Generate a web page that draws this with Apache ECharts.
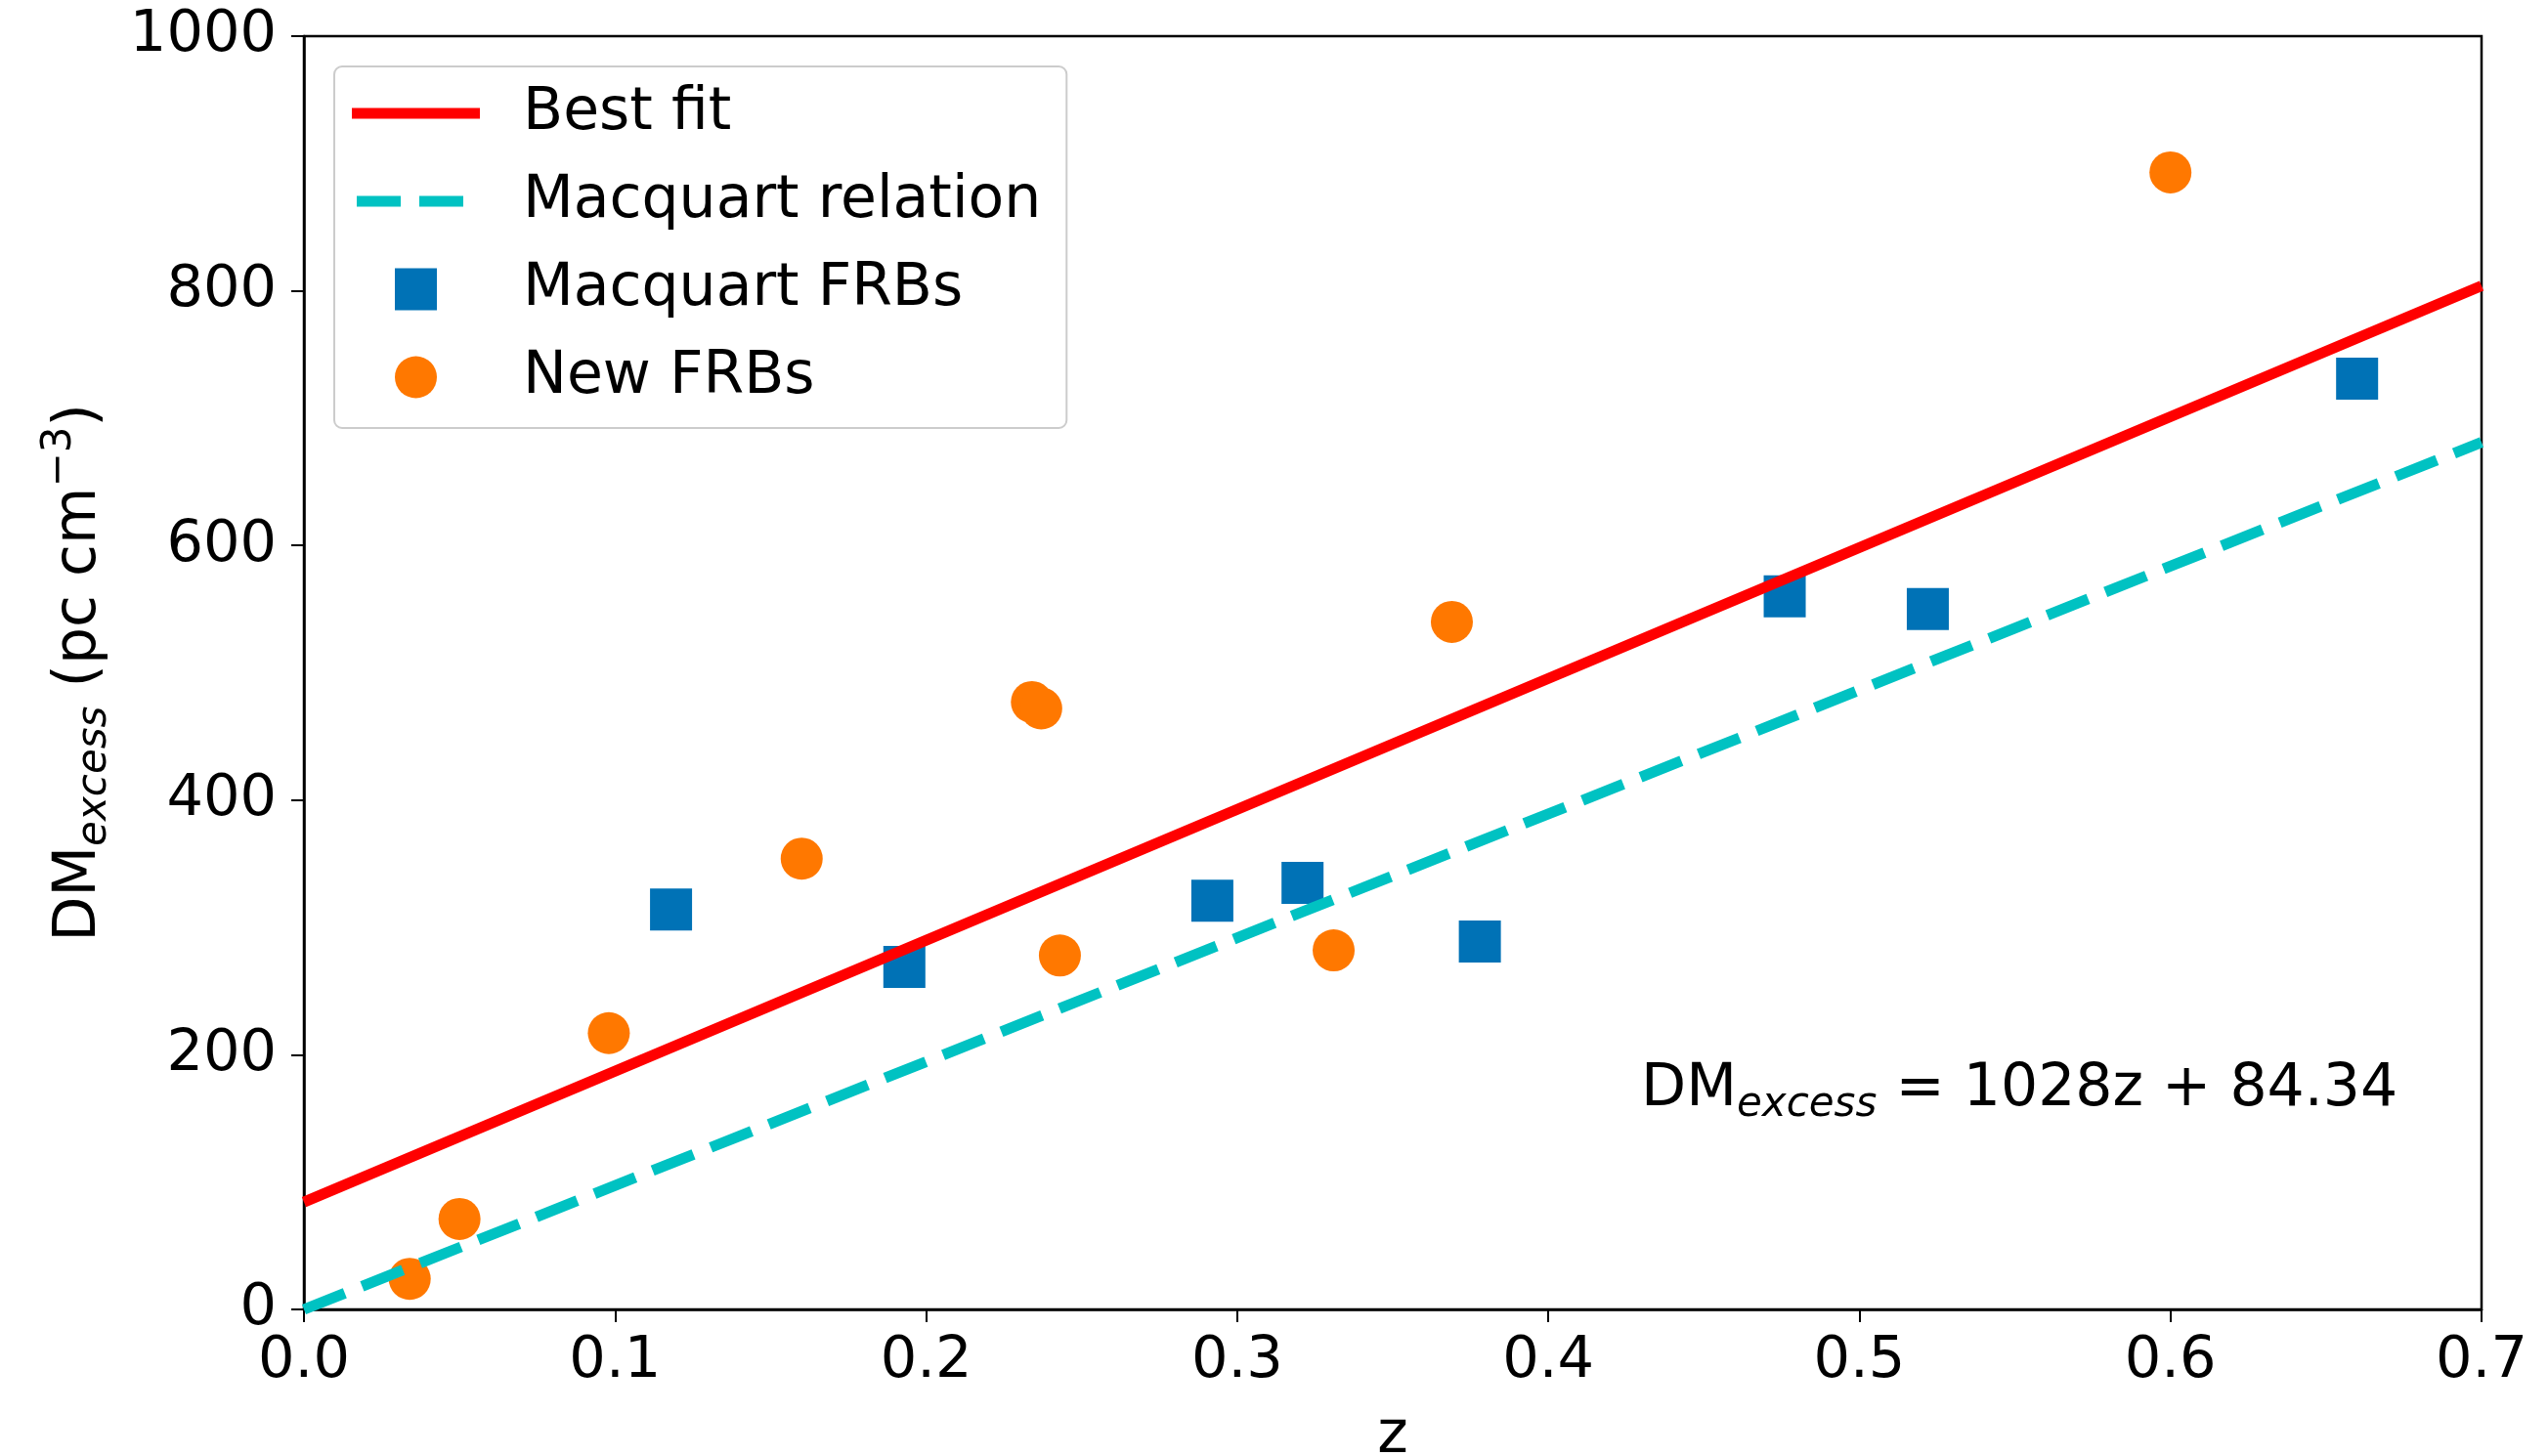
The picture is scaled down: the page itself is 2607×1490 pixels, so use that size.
<!DOCTYPE html>
<html>
<head>
<meta charset="utf-8">
<script src="https://cdn.jsdelivr.net/npm/echarts@6/dist/echarts.min.js"></script>
<style>
html,body{margin:0;padding:0;background:#fff;}
#chart{width:2607px;height:1490px;}
</style>
</head>
<body>
<div id="chart"></div>
<script>
// ---- data ----
const macquartZ  = [0.118, 0.193, 0.292, 0.321, 0.378, 0.476, 0.522, 0.660];
const macquartDM = [314, 269, 321, 335, 289, 560, 550, 731];
const newZ  = [0.034, 0.050, 0.098, 0.160, 0.234, 0.237, 0.243, 0.331, 0.369, 0.600];
const newDM = [24, 71, 217, 354, 477, 472, 278, 282, 540, 893];
const fitZ  = [0.0, 0.7];
const fitDM = [84.34, 803.94];
const relZ  = [0.0, 0.7];
const relDM = [0, 681];
const xTicks = ['0.0','0.1','0.2','0.3','0.4','0.5','0.6','0.7'];
const yTicks = ['0','200','400','600','800','1000'];
const seriesNames = ['Best fit', 'Macquart relation', 'Macquart FRBs', 'New FRBs'];

const zip = (a, b) => a.map((v, i) => [v, b[i]]);
const FONT = 'DejaVu Sans';
const FS = 59;

const chart = echarts.init(document.getElementById('chart'), null, {renderer: 'canvas'});

const subRich = {
  m: {fontFamily: FONT, fontSize: 60, color: '#000', lineHeight: 80},
  s: {fontFamily: FONT, fontSize: 42, fontStyle: 'italic', color: '#000', lineHeight: 80, padding: [32, 0, 0, 0]},
  p: {fontFamily: FONT, fontSize: 42, color: '#000', lineHeight: 80, padding: [0, 0, 40, 0]}
};

const option = {
  animation: false,
  backgroundColor: '#ffffff',
  grid: {left: 311, right: 68, top: 37, bottom: 150, outerBoundsMode: 'none', containLabel: false,
    show: true, borderColor: '#000', borderWidth: 2.5, backgroundColor: 'transparent'},
  xAxis: {
    type: 'value', min: 0, max: 0.7, interval: 0.1,
    name: 'z', nameLocation: 'middle', nameGap: 100,
    nameTextStyle: {fontFamily: FONT, fontSize: 60, color: '#000'},
    axisLine: {show: true, onZero: false, lineStyle: {color: '#000', width: 2.5}},
    axisTick: {show: true, length: 13, lineStyle: {color: '#000', width: 2}},
    axisLabel: {fontFamily: FONT, fontSize: FS, color: '#000', margin: 24,
      formatter: v => xTicks[Math.round(v * 10)]},
    splitLine: {show: false}
  },
  yAxis: {
    type: 'value', min: 0, max: 1000, interval: 200,
    name: '{m|DM}{s|excess}{m| (pc cm}{p|−3}{m|)}',
    nameLocation: 'middle', nameGap: 185,
    nameTextStyle: {rich: subRich},
    axisLine: {show: true, lineStyle: {color: '#000', width: 2.5}},
    axisTick: {show: true, length: 13, lineStyle: {color: '#000', width: 2}},
    axisLabel: {fontFamily: FONT, fontSize: FS, color: '#000', margin: 28,
      formatter: v => yTicks[Math.round(v / 200)]},
    splitLine: {show: false}
  },
  legend: {
    orient: 'vertical', left: 342, top: 68,
    padding: [18, 26, 22, 18],
    itemWidth: 131, itemHeight: 43, itemGap: 30,
    backgroundColor: 'rgba(255,255,255,0.8)',
    borderColor: '#cccccc', borderWidth: 2, borderRadius: 8,
    selectedMode: false,
    itemStyle: {borderWidth: 0},
    textStyle: {fontFamily: FONT, fontSize: 60, color: '#000', lineHeight: 60, padding: [0, 0, 0, 39]},
    data: [
      {name: seriesNames[0], icon: 'path://M0,0H131V11H0Z'},
      {name: seriesNames[1], icon: 'path://M5,0H50V11H5Z M69,0H114V11H69Z M0,5H0.01V5.01H0Z M131,5H131.01V5.01H131Z'},
      {name: seriesNames[2], icon: 'path://M0,0H1V1H0Z'},
      {name: seriesNames[3], icon: 'circle'}
    ]
  },
  series: [
    {
      name: seriesNames[2], type: 'scatter', symbol: 'rect', symbolSize: 43,
      itemStyle: {color: '#0072b6', opacity: 1},
      data: zip(macquartZ, macquartDM), z: 2
    },
    {
      name: seriesNames[3], type: 'scatter', symbol: 'circle', symbolSize: 43,
      itemStyle: {color: '#ff7800', opacity: 1},
      data: zip(newZ, newDM), z: 2
    },
    {
      name: seriesNames[0], type: 'line', symbol: 'none', showSymbol: false,
      itemStyle: {color: '#ff0000'},
      lineStyle: {color: '#ff0000', width: 11, cap: 'butt'},
      data: zip(fitZ, fitDM), z: 3
    },
    {
      name: seriesNames[1], type: 'line', symbol: 'none', showSymbol: false,
      itemStyle: {color: '#00c2c2'},
      lineStyle: {color: '#00c2c2', width: 11, type: [45, 19], cap: 'butt'},
      data: zip(relZ, relDM), z: 3
    }
  ],
  graphic: [
    {
      type: 'text', left: 1679, top: 1078, z: 10,
      style: {
        text: '{m|DM}{s|excess}{m| = 1028z + 84.34}',
        rich: subRich
      }
    }
  ]
};
chart.setOption(option);
</script>
</body>
</html>
